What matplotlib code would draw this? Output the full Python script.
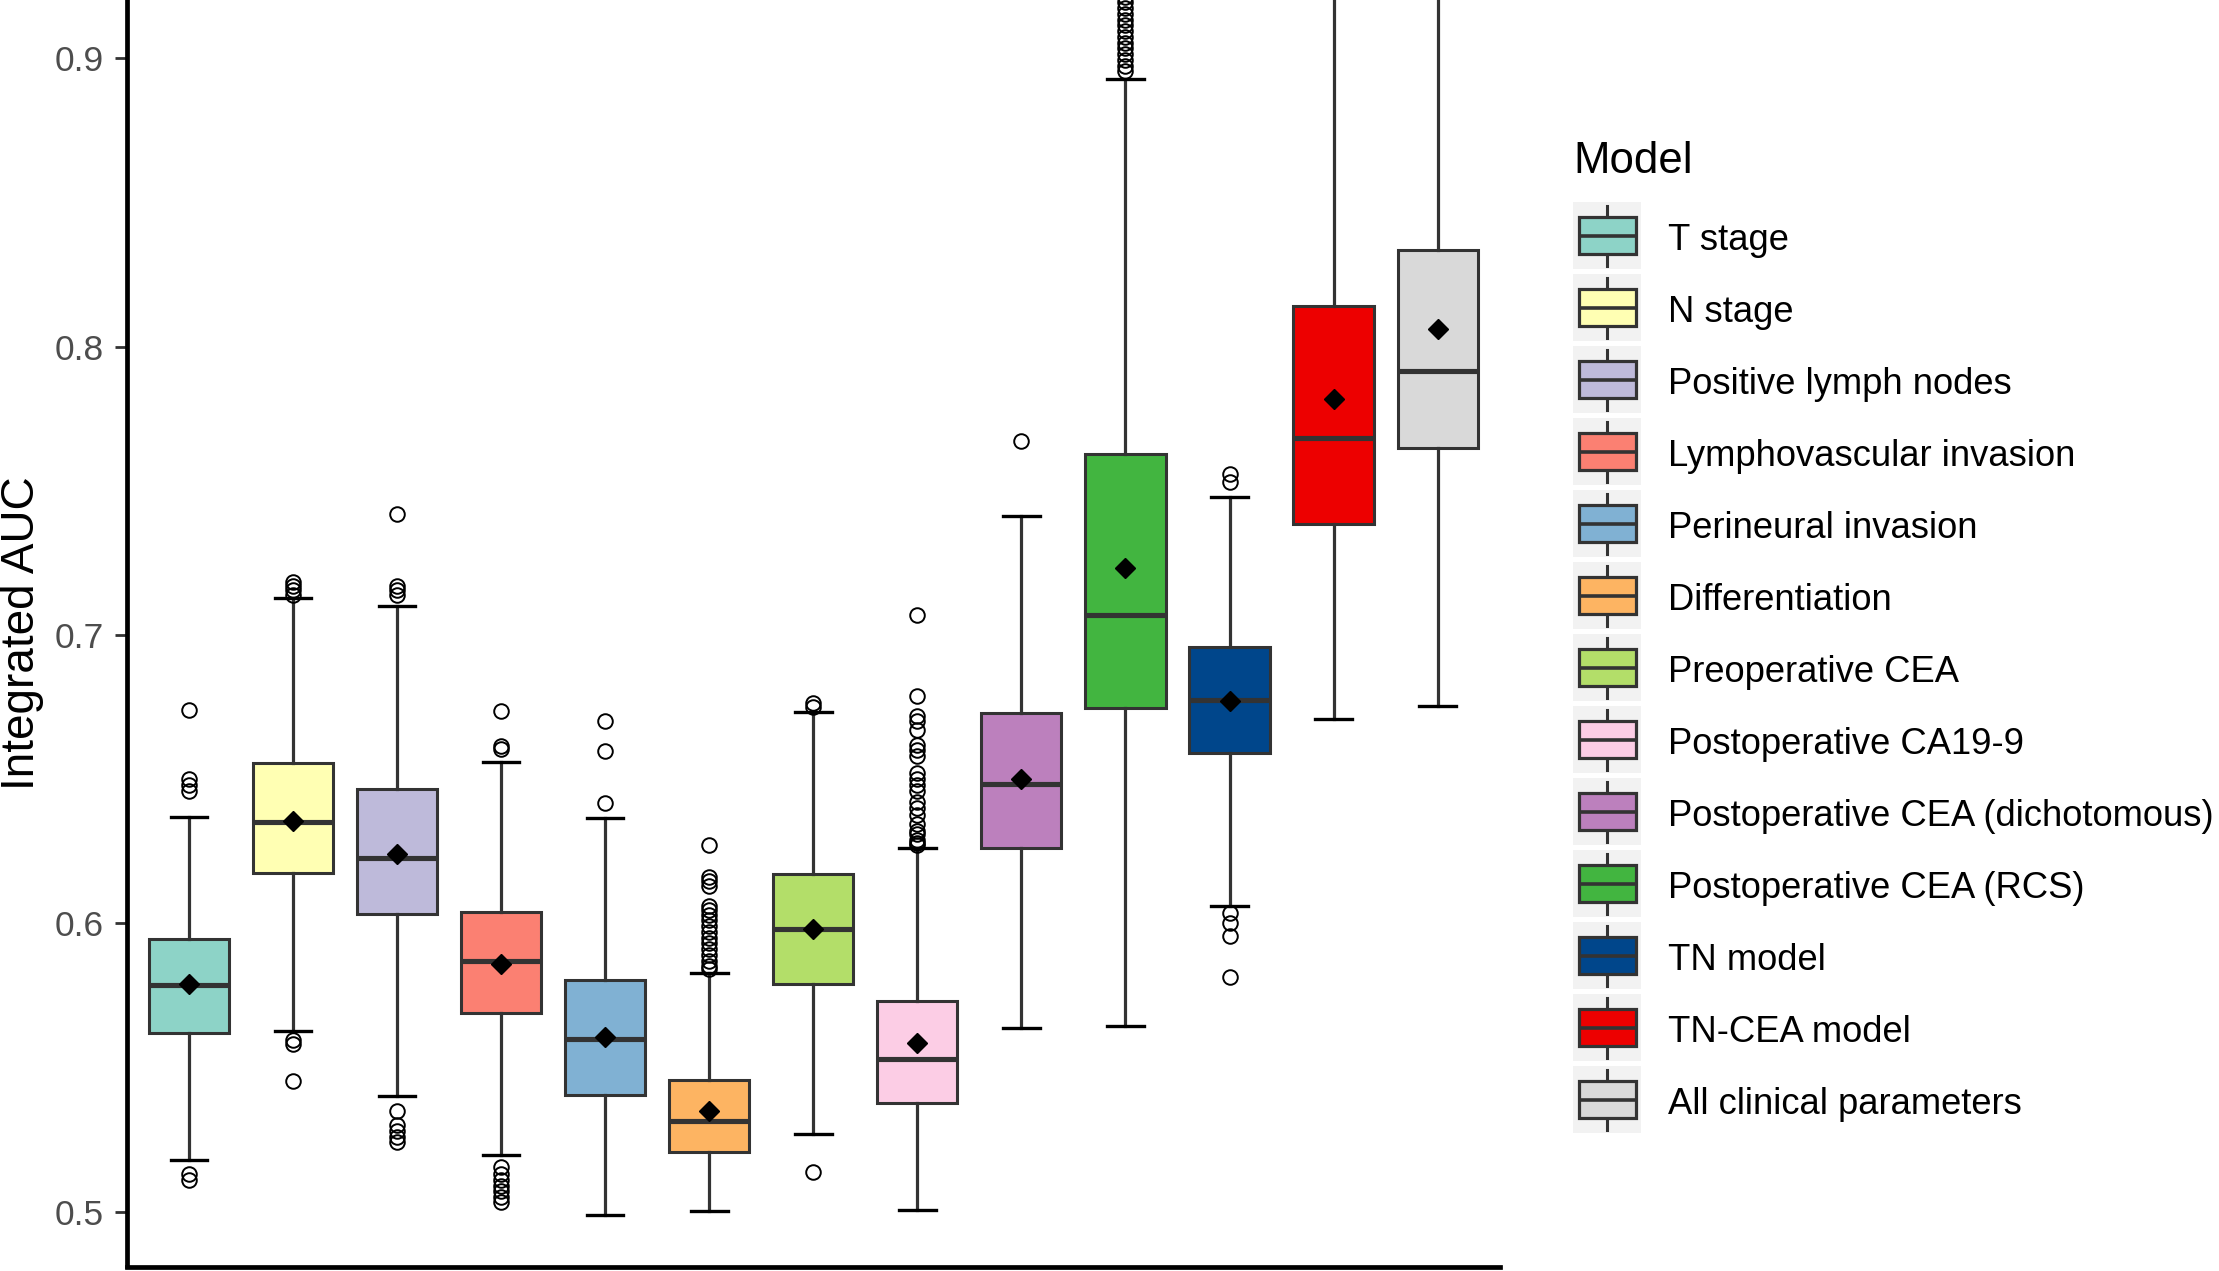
import matplotlib
matplotlib.use("Agg")
import matplotlib.pyplot as plt
from matplotlib.patches import Rectangle
from matplotlib.lines import Line2D

plt.rcParams['font.family'] = ['Liberation Sans', 'DejaVu Sans']

# ---------------- data ----------------
models = ["T stage", "N stage", "Positive lymph nodes", "Lymphovascular invasion",
          "Perineural invasion", "Differentiation", "Preoperative CEA",
          "Postoperative CA19-9", "Postoperative CEA (dichotomous)",
          "Postoperative CEA (RCS)", "TN model", "TN-CEA model",
          "All clinical parameters"]
colors = ["#8DD3C7", "#FFFFB3", "#BEBADA", "#FB8072", "#80B1D3", "#FDB462",
          "#B3DE69", "#FCCDE5", "#BC80BD", "#42B540", "#00468B", "#ED0000",
          "#D9D9D9"]

q1 = [0.562, 0.6175, 0.6032, 0.5687, 0.5404, 0.5205, 0.579, 0.5375, 0.626,
      0.6745, 0.659, 0.7386, 0.7650]
median = [0.5785, 0.635, 0.6227, 0.587, 0.560, 0.5314, 0.5981, 0.5528, 0.6484,
          0.7070, 0.6773, 0.7685, 0.7915]
q3 = [0.5944, 0.6555, 0.6466, 0.6038, 0.5804, 0.5455, 0.6172, 0.573, 0.673,
      0.7629, 0.6957, 0.8140, 0.8334]
whisker_low = [0.518, 0.5626, 0.540, 0.5195, 0.4987, 0.5001, 0.527, 0.5004,
               0.5636, 0.5645, 0.6059, 0.6709, 0.6753]
whisker_high = [0.637, 0.7129, 0.710, 0.6558, 0.6364, 0.5827, 0.6732, 0.626,
                0.7413, 0.8930, 0.7480, 0.98, 0.98]
mean = [0.579, 0.6355, 0.6239, 0.5858, 0.5605, 0.535, 0.5979, 0.5583, 0.650,
        0.7233, 0.677, 0.7819, 0.8060]
outliers = [
    [0.674, 0.650, 0.648, 0.646, 0.513, 0.511],
    [0.7185, 0.717, 0.7155, 0.714, 0.5595, 0.558, 0.5453],
    [0.742, 0.717, 0.7155, 0.714, 0.535, 0.530, 0.528, 0.526, 0.524],
    [0.6738, 0.6616, 0.6606, 0.5156, 0.513, 0.511, 0.509, 0.507, 0.505, 0.5032],
    [0.670, 0.6596, 0.6416],
    [0.627, 0.616, 0.6145, 0.613, 0.606, 0.6045, 0.603, 0.601, 0.599, 0.597,
     0.595, 0.593, 0.591, 0.589, 0.587, 0.585, 0.584],
    [0.6765, 0.675, 0.5137],
    [0.707, 0.679, 0.672, 0.670, 0.667, 0.662, 0.660, 0.658, 0.652, 0.650,
     0.648, 0.646, 0.642, 0.640, 0.6375, 0.6345, 0.632, 0.631, 0.629, 0.628,
     0.627],
    [0.7673],
    [0.8955, 0.8975, 0.8995, 0.9015, 0.9035, 0.9055, 0.9075, 0.9095, 0.9115,
     0.9135, 0.9155, 0.9175, 0.9195, 0.9215],
    [0.756, 0.753, 0.6034, 0.600, 0.5955, 0.5813],
    [],
    [],
]
ytick_values = [0.5, 0.6, 0.7, 0.8, 0.9]
ytick_labels = ["0.5", "0.6", "0.7", "0.8", "0.9"]
y_title = "Integrated AUC"
legend_title = "Model"

# ---------------- figure ----------------
W, H = 2219, 1271
fig = plt.figure(figsize=(W / 100, H / 100), dpi=100)
ax_left, ax_right, ax_bottom_px = 126.7, 1500, 1266.5
ax = fig.add_axes([ax_left / W, (H - ax_bottom_px) / H,
                   (ax_right - ax_left) / W, ax_bottom_px / H])

edge = "#333333"
stats = []
for i in range(len(models)):
    stats.append(dict(label=models[i], q1=q1[i], med=median[i], q3=q3[i],
                      whislo=whisker_low[i], whishi=whisker_high[i],
                      mean=mean[i], fliers=outliers[i]))

positions = list(range(1, len(models) + 1))
bp = ax.bxp(stats, positions=positions, widths=0.77, capwidths=0.35,
            patch_artist=True, showmeans=True,
            boxprops=dict(edgecolor=edge, linewidth=2.2),
            whiskerprops=dict(color=edge, linewidth=2.3),
            capprops=dict(color="black", linewidth=2.4),
            medianprops=dict(color=edge, linewidth=3.7, solid_capstyle="butt"),
            meanprops=dict(marker="D", markerfacecolor="black",
                           markeredgecolor="black", markersize=10),
            flierprops=dict(marker="o", markerfacecolor="none",
                            markeredgecolor="black", markersize=10.5,
                            markeredgewidth=1.4))
for patch, c in zip(bp["boxes"], colors):
    patch.set_facecolor(c)

ax.set_xlim(0.4, 13.6)
ax.set_ylim(0.48092, 0.92029)
ax.set_xticks([])
ax.set_yticks(ytick_values)
ax.set_yticklabels(ytick_labels)
ax.tick_params(axis="y", length=8.4, width=2.0, color=edge, pad=8,
               labelsize=25.5, labelcolor="#4D4D4D")
for s in ["top", "right"]:
    ax.spines[s].set_visible(False)
for s in ["left", "bottom"]:
    ax.spines[s].set_color("black")
    ax.spines[s].set_linewidth(3.4)

fig.text(22 / W, (H - 633) / H, y_title, rotation=90, ha="center",
         va="center", fontsize=33, color="black")

# ---------------- legend (pixel overlay) ----------------
lax = fig.add_axes([0, 0, 1, 1])
lax.set_xlim(0, W)
lax.set_ylim(H, 0)
lax.axis("off")

lax.text(1573, 173, legend_title, fontsize=31.5, ha="left", va="baseline",
         color="black")
kx = 1607
for i, (m, c) in enumerate(zip(models, colors)):
    ky = 235.5 + 72 * i
    lax.add_patch(Rectangle((kx - 34, ky - 33.5), 68, 67, facecolor="#F2F2F2",
                            edgecolor="none", zorder=1))
    lax.add_line(Line2D([kx, kx], [ky - 30, ky + 30], color=edge, lw=2.2,
                        zorder=2))
    lax.add_patch(Rectangle((kx - 28.5, ky - 18.5), 57, 37, facecolor=c,
                            edgecolor=edge, lw=2.3, zorder=3))
    lax.add_line(Line2D([kx - 28.5, kx + 28.5], [ky, ky], color=edge, lw=2.6,
                        zorder=4, solid_capstyle="butt"))
    lax.text(1668, ky + 14, m, fontsize=26.2, ha="left", va="baseline",
             color="black")

fig.savefig("out.png", dpi=100, facecolor="white")
